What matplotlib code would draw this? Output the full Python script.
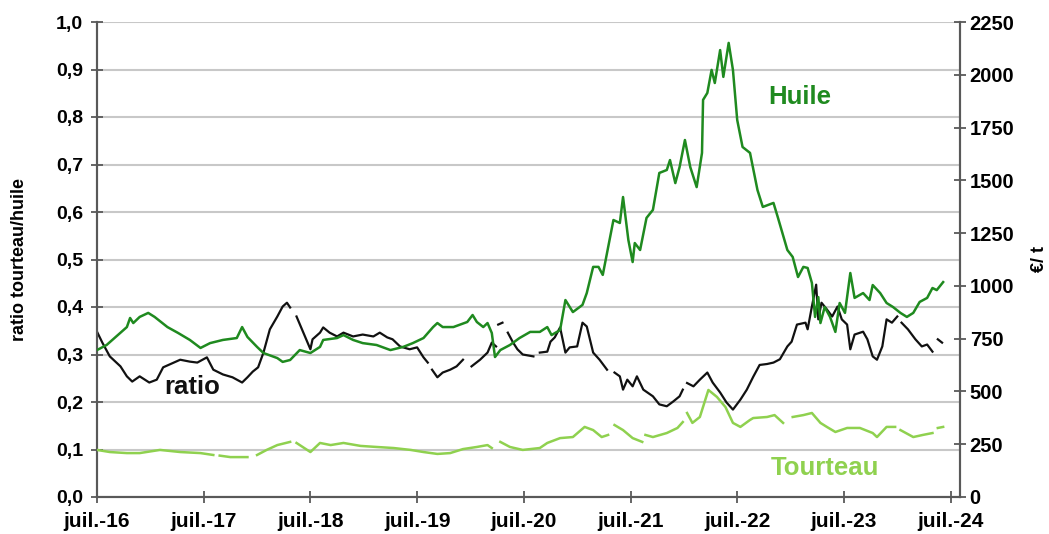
import numpy as np
import matplotlib
matplotlib.use("Agg")
import matplotlib.pyplot as plt
from matplotlib.ticker import FixedLocator, FuncFormatter

N = np.nan  # break in a series

huile_t = [2016.50, 2016.59, 2016.78, 2016.81, 2016.84, 2016.90, 2016.98, 2017.04, 2017.16, 2017.26,
           2017.37, 2017.47, 2017.56, 2017.68, 2017.81, 2017.86, 2017.91, 2018.00, 2018.06, 2018.19,
           2018.24, 2018.31, 2018.40, 2018.50, 2018.59, 2018.62, 2018.75, 2018.81, 2018.90, 2018.99,
           2019.12, 2019.25, 2019.37, 2019.46, 2019.56, 2019.65, 2019.69, 2019.74, 2019.84, 2019.97,
           2020.02, 2020.06, 2020.12, 2020.16, 2020.20, 2020.23, 2020.28, 2020.37, 2020.46, 2020.56,
           2020.65, 2020.72, 2020.76, 2020.84, 2020.89, 2020.96, 2021.05, 2021.09, 2021.15, 2021.20,
           2021.24, 2021.34, 2021.40, 2021.43, 2021.48, 2021.52, 2021.54, 2021.59, 2021.65, 2021.71,
           2021.77, 2021.84, 2021.87, 2021.92, 2021.96, 2022.01, 2022.06, 2022.12, 2022.17, 2022.18,
           2022.22, 2022.26, 2022.29, 2022.34, 2022.37, 2022.42, 2022.46, 2022.50, 2022.55, 2022.62,
           2022.69, 2022.74, 2022.84, 2022.88, 2022.97, 2023.02, 2023.07, 2023.12, 2023.16, 2023.20,
           2023.23, 2023.26, 2023.28, 2023.32, 2023.37, 2023.42, 2023.46, 2023.51, 2023.56, 2023.60,
           2023.68, 2023.74, 2023.77, 2023.84, 2023.90, 2023.96, 2024.03, 2024.09, 2024.15, 2024.21,
           2024.28, 2024.33, 2024.37, 2024.43]
huile = [696, 720, 805, 848, 824, 853, 872, 853, 805, 777,
         744, 706, 729, 744, 753, 805, 758, 711, 682, 658,
         640, 649, 696, 682, 711, 744, 753, 767, 744, 729,
         720, 696, 711, 729, 753, 805, 824, 805, 805, 829,
         862, 829, 805, 824, 777, 663, 696, 720, 753, 782,
         782, 805, 767, 791, 933, 876, 910, 966, 1090, 1090,
         1052, 1312, 1298, 1421, 1217, 1113, 1203, 1170, 1322, 1360,
         1535, 1549, 1596, 1487, 1563, 1691, 1563, 1468, 1630, 1881,
         1914, 2023, 1961, 2117, 1990, 2151, 2023, 1786, 1658, 1630,
         1454, 1374, 1393, 1326, 1170, 1137, 1042, 1090, 1085, 1014,
         853, 947, 824, 900, 853, 782, 919, 872, 1061, 943,
         966, 933, 1004, 966, 919, 900, 872, 853, 872, 924,
         943, 990, 980, 1018]

tourteau_t = [2016.50, 2016.62, 2016.78, 2016.90, 2017.09, 2017.28, 2017.47, 2017.59, 2017.62, 2017.65,
              2017.75, 2017.91, 2017.98, 2018.00, 2018.09, 2018.19, 2018.31, 2018.34, 2018.37, 2018.50,
              2018.59, 2018.69, 2018.81, 2018.97, 2019.12, 2019.28, 2019.44, 2019.56, 2019.69, 2019.81,
              2019.93, 2020.06, 2020.16, 2020.20, 2020.24, 2020.28, 2020.37, 2020.49, 2020.65, 2020.72,
              2020.84, 2020.96, 2021.07, 2021.15, 2021.23, 2021.29, 2021.32, 2021.35, 2021.43, 2021.52,
              2021.61, 2021.625, 2021.64, 2021.71, 2021.84, 2021.94, 2021.99, 2022.01, 2022.03, 2022.08,
              2022.15, 2022.23, 2022.31, 2022.39, 2022.46, 2022.53, 2022.62, 2022.65, 2022.78, 2022.85,
              2022.93, 2022.97, 2023.02, 2023.12, 2023.20, 2023.28, 2023.34, 2023.42, 2023.53, 2023.65,
              2023.77, 2023.81, 2023.90, 2023.98, 2024.00, 2024.03, 2024.15, 2024.24, 2024.33, 2024.355,
              2024.38, 2024.43]
tourteau = [223, 213, 208, 208, 223, 213, 208, 199, N, 196,
            189, 189, N, 199, 223, 246, 261, N, 256, 213,
            256, 246, 256, 242, 237, 232, 223, 213, 204, 208,
            227, 237, 246, 232, N, 261, 237, 223, 232, 256,
            279, 284, 332, 317, 284, 294, N, 341, 317, 279,
            261, N, 294, 284, 303, 327, 355, N, 398, 351,
            379, 507, 474, 426, 351, 332, 365, 374, 379, 388,
            351, N, 379, 388, 398, 351, 332, 308, 327, 327,
            303, 284, 332, 332, N, 317, 284, 294, 303, N,
            327, 332]

ratio_t = [2016.50, 2016.55, 2016.62, 2016.72, 2016.78, 2016.83, 2016.90, 2016.99, 2017.06, 2017.12,
           2017.18, 2017.28, 2017.37, 2017.44, 2017.53, 2017.59, 2017.68, 2017.77, 2017.86, 2017.91,
           2017.96, 2018.01, 2018.06, 2018.12, 2018.19, 2018.24, 2018.28, 2018.31, 2018.34, 2018.37,
           2018.43, 2018.50, 2018.52, 2018.59, 2018.62, 2018.68, 2018.75, 2018.81, 2018.90, 2018.99,
           2019.09, 2019.15, 2019.22, 2019.27, 2019.34, 2019.43, 2019.50, 2019.56, 2019.60, 2019.62,
           2019.64, 2019.69, 2019.74, 2019.81, 2019.87, 2019.93, 2019.97, 2020.01, 2020.09, 2020.16,
           2020.20, 2020.24, 2020.25, 2020.26, 2020.30, 2020.32, 2020.35, 2020.40, 2020.44, 2020.49,
           2020.59, 2020.62, 2020.65, 2020.72, 2020.75, 2020.79, 2020.84, 2020.89, 2020.93, 2021.00,
           2021.05, 2021.09, 2021.15, 2021.21, 2021.28, 2021.31, 2021.35, 2021.40, 2021.43, 2021.47,
           2021.52, 2021.56, 2021.62, 2021.71, 2021.77, 2021.84, 2021.90, 2021.96, 2021.99, 2022.01,
           2022.03, 2022.09, 2022.15, 2022.22, 2022.27, 2022.34, 2022.40, 2022.46, 2022.53, 2022.59,
           2022.65, 2022.71, 2022.78, 2022.84, 2022.90, 2022.97, 2023.01, 2023.06, 2023.14, 2023.16,
           2023.20, 2023.24, 2023.26, 2023.29, 2023.34, 2023.39, 2023.44, 2023.48, 2023.53, 2023.56,
           2023.60, 2023.68, 2023.72, 2023.77, 2023.81, 2023.86, 2023.90, 2023.95, 2024.00, 2024.02,
           2024.04, 2024.10, 2024.17, 2024.23, 2024.28, 2024.33, 2024.355, 2024.38, 2024.42]
ratio = [0.348, 0.325, 0.296, 0.275, 0.254, 0.243, 0.254, 0.241, 0.247, 0.273,
         0.279, 0.289, 0.285, 0.283, 0.294, 0.268, 0.258, 0.252, 0.241, 0.252,
         0.264, 0.273, 0.304, 0.353, 0.380, 0.401, 0.409, 0.399, N, 0.380,
         0.348, 0.311, 0.332, 0.346, 0.357, 0.346, 0.338, 0.346, 0.338, 0.342,
         0.338, 0.346, 0.336, 0.332, 0.317, 0.311, 0.315, 0.294, 0.283, N,
         0.268, 0.252, 0.262, 0.268, 0.275, 0.289, N, 0.275, 0.289, 0.304,
         0.325, 0.317, N, 0.363, 0.367, N, 0.346, 0.325, 0.311, 0.300,
         0.296, N, 0.304, 0.306, 0.327, 0.336, 0.357, 0.304, 0.315, 0.317,
         0.367, 0.359, 0.304, 0.289, 0.268, N, 0.262, 0.254, 0.226, 0.247,
         0.233, 0.254, 0.226, 0.212, 0.195, 0.191, 0.201, 0.212, 0.226, N,
         0.240, 0.233, 0.247, 0.262, 0.241, 0.220, 0.199, 0.184, 0.205, 0.226,
         0.253, 0.278, 0.280, 0.283, 0.290, 0.317, 0.327, 0.363, 0.367, 0.353,
         0.401, 0.447, 0.374, 0.409, 0.395, 0.380, 0.401, 0.374, 0.363, 0.311,
         0.342, 0.348, 0.332, 0.296, 0.289, 0.317, 0.374, 0.367, 0.380, N,
         0.367, 0.353, 0.332, 0.317, 0.321, 0.306, N, 0.332, 0.325]

x_ticks = [2016.5, 2017.5, 2018.5, 2019.5, 2020.5, 2021.5, 2022.5, 2023.5, 2024.5]
x_labels = ["juil.-16", "juil.-17", "juil.-18", "juil.-19", "juil.-20",
            "juil.-21", "juil.-22", "juil.-23", "juil.-24"]
left_ticks = [0.0, 0.1, 0.2, 0.3, 0.4, 0.5, 0.6, 0.7, 0.8, 0.9, 1.0]
right_ticks = [0, 250, 500, 750, 1000, 1250, 1500, 1750, 2000, 2250]

C_HUILE = "#1f8a1f"
C_TOURT = "#8fd14f"
C_RATIO = "#111111"
C_AXIS = "#595959"
C_GRID = "#c8c8c8"

plt.rcParams["font.family"] = ["Liberation Sans", "DejaVu Sans"]
plt.rcParams["font.weight"] = "bold"

fig = plt.figure(figsize=(10.49, 5.34), dpi=100)
ax = fig.add_axes([97 / 1049, 1 - 497 / 534, (960 - 97) / 1049, (497 - 22) / 534])
ax2 = ax.twinx()

ax.set_xlim(2016.5, 2024.588)
ax.set_ylim(0, 1.0)
ax2.set_ylim(0, 2250)

ax.yaxis.set_major_locator(FixedLocator(left_ticks))
ax.yaxis.set_major_formatter(FuncFormatter(lambda v, p: f"{v:.1f}".replace(".", ",")))
ax2.yaxis.set_major_locator(FixedLocator(right_ticks))
ax2.yaxis.set_major_formatter(FuncFormatter(lambda v, p: f"{int(round(v))}"))
ax.set_xticks(x_ticks)
ax.set_xticklabels(x_labels)

ax.grid(axis="y", color=C_GRID, lw=1.5)
ax.set_axisbelow(True)

for a in (ax, ax2):
    a.spines["top"].set_visible(False)
    for s in ("left", "right", "bottom"):
        a.spines[s].set_color(C_AXIS)
        a.spines[s].set_linewidth(1.5)

ax.tick_params(axis="y", direction="inout", length=8, width=1.3, color=C_AXIS,
               labelsize=14, pad=6)
ax2.tick_params(axis="y", direction="inout", length=8, width=1.3, color=C_AXIS,
                labelsize=14.5, pad=3)
ax.tick_params(axis="x", direction="inout", length=9, width=1.3, color=C_AXIS,
               labelsize=15, pad=6)
for lab in ax.get_xticklabels() + ax.get_yticklabels() + ax2.get_yticklabels():
    lab.set_fontweight("bold")

ax.plot(ratio_t, ratio, color=C_RATIO, lw=1.6, zorder=3)
ax2.plot(tourteau_t, tourteau, color=C_TOURT, lw=1.8, zorder=3)
ax2.plot(huile_t, huile, color=C_HUILE, lw=1.8, zorder=4)

ax.set_ylabel("ratio tourteau/huile", fontsize=13, fontweight="bold", labelpad=20)
ax2.set_ylabel("€/ t", fontsize=13, fontweight="bold", labelpad=12)

ax2.text(2023.09, 1895, "Huile", color=C_HUILE, fontsize=18.5, fontweight="bold",
         ha="center", va="center")
ax2.text(2023.32, 137, "Tourteau", color=C_TOURT, fontsize=18.5, fontweight="bold",
         ha="center", va="center")
ax.text(2017.39, 0.232, "ratio", color=C_RATIO, fontsize=18.5, fontweight="bold",
        ha="center", va="center")

fig.savefig("out.png", dpi=100)
